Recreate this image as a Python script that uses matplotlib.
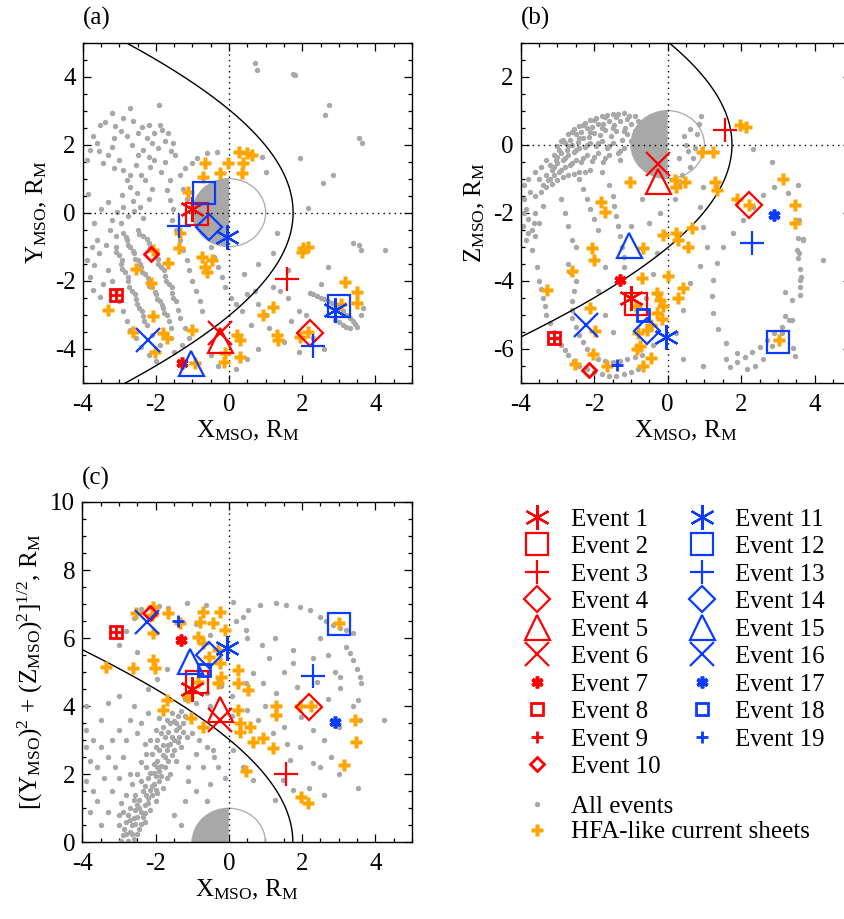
import numpy as np
import matplotlib.pyplot as plt
from matplotlib.lines import Line2D
from matplotlib.patches import Circle, Wedge
from matplotlib.ticker import MultipleLocator

plt.rcParams['font.family'] = ['Liberation Serif', 'DejaVu Serif']
plt.rcParams['mathtext.fontset'] = 'custom'
plt.rcParams['mathtext.rm'] = 'Liberation Serif'
plt.rcParams['mathtext.it'] = 'Liberation Serif:italic'
plt.rcParams['axes.unicode_minus'] = False
plt.rcParams['font.size'] = 18

# ---- 19 HFA events, MSO coordinates (R_M)
ev_x = [-1.00, -0.87, 1.57, 2.20, -0.25, -0.25, -1.30, -3.08, -3.08, -2.14,
        -0.05, 3.01, 2.29, -0.55, -1.05, -2.22, 2.90, -0.68, -1.38]
ev_y = [0.10, -0.05, -1.95, -3.55, -3.75, -3.55, -4.43, -2.42, -2.42, -1.22,
        -0.73, -2.75, -3.92, -0.41, -4.43, -3.75, -2.85, 0.59, -0.39]
ev_z = [-4.50, -4.70, 0.42, -1.78, -1.08, -0.56, -3.97, -5.70, -5.70, -6.62,
        -5.65, -5.80, -2.90, -5.48, -2.95, -5.29, -2.07, -5.02, -6.48]
ev_r = np.sqrt(np.array(ev_y)**2 + np.array(ev_z)**2)
ev_labels = ['Event %d' % (i + 1) for i in range(19)]

# ---- all events (grey dots)
gray_a = [(-3.21,2.92),(-2.71,3.07),(-1.91,3.17),(-3.53,2.58),(-3.40,2.68),(-3.12,2.55),(-2.89,2.77),
    (-2.62,2.70),(-2.39,2.53),(-2.20,2.58),(-1.88,2.58),(-1.84,2.43),(-1.66,2.33),(-1.52,2.04),(-1.60,1.80),
    (-1.48,1.70),(-3.71,2.24),(-3.80,1.84),(-3.89,1.55),(-3.60,2.05),(-3.21,1.94),(-2.80,2.24),(-2.66,2.00),
    (-2.48,1.70),(-2.34,1.84),(-2.20,1.65),(-2.16,1.35),(-2.11,2.04),(-2.25,2.20),(-1.95,1.90),(-2.05,1.55),
    (-1.75,2.10),(-3.30,1.70),(-3.45,1.45),(-3.00,1.55),(-2.90,1.25),(-2.55,1.40),(-2.70,1.10),
    (-2.95,2.40),(-2.50,2.35),(-2.05,2.35),(-3.15,2.20),(-3.55,1.80),(-3.15,1.30),(-2.40,1.10),
    (-1.85,1.20),(-1.75,1.50),
    (-2.80,0.96),(-2.71,0.76),(-2.93,0.52),(-2.52,0.57),(-2.62,0.35),(-2.43,0.18),(-2.89,0.18),(-3.07,0.03),
    (-3.21,-0.22),(-3.25,-0.51),(-3.62,-0.80),(-3.75,-1.00),(-3.89,-1.39),(-3.70,-1.55),(-3.80,-1.88),
    (-3.71,-2.27),(-3.53,-2.47),(-3.45,-2.10),(-3.55,-1.20),(-3.35,-0.95),(-3.10,-0.70),(-2.95,-0.30),
    (-2.75,-0.10),(-2.60,0.05),(-2.35,-0.15),(-2.20,0.40),(-2.10,0.70),(-2.30,0.95),(-3.30,0.30),
    (-3.50,0.10),(-3.70,-0.30),(-3.85,0.55),
    (-2.90,-0.60),(-2.80,-0.80),(-2.70,-1.00),(-2.60,-1.20),(-2.50,-1.40),(-2.40,-1.60),(-2.30,-1.80),
    (-2.20,-2.00),(-2.10,-2.20),(-2.00,-2.40),(-1.90,-2.60),(-1.80,-2.80),(-1.70,-3.00),(-1.65,-3.20),
    (-1.60,-3.40),(-3.10,-1.00),(-3.00,-1.25),(-2.95,-1.50),(-2.85,-1.75),(-2.75,-2.00),(-2.65,-2.30),
    (-2.55,-2.55),(-2.45,-2.80),(-2.35,-3.05),(-2.25,-3.30),(-2.50,-0.50),(-2.35,-0.70),(-2.20,-0.90),
    (-2.05,-1.10),(-1.95,-1.35),(-1.85,-1.60),(-1.75,-1.85),(-1.65,-2.10),(-1.55,-2.35),(-1.45,-2.60),
    (-1.40,-2.85),(-1.35,-3.10),(-3.30,-1.70),(-3.20,-2.00),(-3.10,-2.30),(-3.00,-2.60),(-2.90,-2.90),
    (-2.80,-3.20),(-2.70,-3.45),(-2.55,-3.70),(-2.40,-3.95),(-2.20,-4.20),(-2.00,-4.35),(-1.20,-3.40),
    (-1.10,-3.70),(-1.30,-3.90),(-1.50,-4.10),(-1.60,-3.70),(-1.90,-3.90),(-2.10,-3.60),
    (-2.82,-0.72),(-2.77,-0.95),(-2.62,-1.12),(-2.58,-1.35),(-2.43,-1.52),(-2.38,-1.75),(-2.22,-1.92),
    (-2.18,-2.15),(-2.03,-2.32),(-1.98,-2.55),(-1.83,-2.72),(-1.78,-2.95),(-3.08,-1.15),(-2.93,-1.40),
    (-2.92,-1.65),(-2.76,-1.90),(-2.73,-2.18),(-2.57,-2.40),(-2.53,-2.70),(-2.37,-2.90),(-2.33,-3.20),
    (-2.45,-0.62),(-2.25,-0.78),(-2.15,-1.02),(-1.97,-1.20),(-1.93,-1.50),(-1.77,-1.70),(-1.73,-2.00),
    (-1.57,-2.20),(-1.53,-2.50),
    (-1.61,0.96),(-1.70,0.67),(-1.61,0.37),(-1.52,0.10),(-1.57,-0.22),(-1.45,-0.50),(-1.35,-0.80),
    (-1.25,-1.10),(-1.15,-1.40),(-1.10,-1.70),(-1.00,-2.00),(-0.90,-2.30),(-0.80,-2.60),(-0.75,-2.90),
    (-1.20,1.30),(-1.00,1.45),(-0.88,1.60),(-0.61,1.75),(-0.34,1.79),(-1.35,1.10),(-1.25,0.70),
    (-1.15,0.40),(-1.05,0.20),(-0.50,-1.00),(-0.40,-1.30),(-0.30,-1.60),(-0.20,-1.90),(-0.10,-2.20),
    (0.05,-2.50),(0.20,-2.70),(0.35,-2.90),
    (0.71,4.39),(0.76,4.20),(1.76,4.08),(1.80,4.05),(2.72,3.17),(2.63,2.87),(3.54,2.19),(3.63,2.04),
    (1.94,1.60),(2.85,1.11),(2.58,0.86),(2.17,0.13),(3.40,-0.90),(3.54,-0.95),(4.26,-1.10),(3.60,-1.10),
    (1.00,1.20),(0.90,1.65),(1.30,-0.60),
    (2.20,-2.35),(2.40,-2.45),(2.60,-2.55),(2.80,-2.65),(3.00,-2.80),(3.20,-3.00),(3.40,-3.20),
    (3.50,-3.35),(3.30,-3.40),(3.10,-3.30),(2.90,-3.15),(3.60,-3.00),(3.65,-2.80),(1.20,-2.20),
    (2.30,-2.40),(2.50,-2.50),(2.70,-2.60),(2.90,-2.72),(3.10,-2.90),(3.30,-3.10),(3.45,-3.28),
    (3.20,-3.35),(3.00,-3.22),
    (1.40,-2.30),(1.60,-2.50),(0.70,-2.30),(0.80,-2.70),(0.50,-2.40),(1.00,-3.00),(1.70,-3.20),
    (1.90,-2.90),(2.10,-3.00),(0.40,-1.80),(0.80,-1.50),(1.20,-1.20),(1.60,-1.70),(2.50,-2.10),
    (2.70,-1.60),(1.10,-3.40),(1.50,-3.80),(1.90,-4.10),(0.50,-4.30),(0.80,-4.00),(0.20,-4.60),
    (-0.30,-4.50),(-0.50,-4.20),(0.60,-3.30),(2.30,-3.70),(2.60,-4.00)]

gray_b = [(-3.0,-0.05),(-2.7,0.30),(-2.4,0.55),(-2.1,0.72),(-1.8,0.84),(-1.5,0.90),(-1.2,0.93),(-0.9,0.85),
    (-3.1,-0.30),(-2.8,0.05),(-2.5,0.30),(-2.2,0.50),(-1.9,0.62),(-1.6,0.70),(-1.3,0.70),(-1.0,0.60),
    (-3.2,-0.60),(-2.9,-0.25),(-2.6,0.00),(-2.3,0.20),(-2.0,0.35),(-1.7,0.42),(-1.4,0.40),(-1.1,0.30),
    (-3.3,-0.90),(-3.0,-0.55),(-2.7,-0.30),(-2.4,-0.10),(-2.1,0.05),(-1.8,0.10),(-1.5,0.05),(-1.2,-0.10),
    (-3.4,-1.20),(-3.1,-0.90),(-2.8,-0.65),(-2.5,-0.45),(-2.2,-0.30),(-1.9,-0.25),(-1.6,-0.30),(-1.3,-0.45),
    (-3.6,-1.50),(-3.3,-1.25),(-3.0,-1.05),(-2.7,-0.90),(-2.4,-0.80),(-2.1,-0.75),(-1.8,-0.80),
    (-2.85,0.15),(-2.55,0.45),(-2.25,0.63),(-1.95,0.77),(-1.65,0.86),(-1.35,0.90),(-1.05,0.85),
    (-2.95,-0.15),(-2.65,0.15),(-2.35,0.37),(-2.05,0.52),(-1.75,0.60),(-1.45,0.58),(-1.15,0.50),
    (-3.05,-0.45),(-2.75,-0.15),(-2.45,0.08),(-2.15,0.22),(-1.85,0.28),(-1.55,0.25),(-1.25,0.15),
    (-3.15,-0.75),(-2.85,-0.45),(-2.55,-0.22),(-2.25,-0.08),(-1.95,-0.05),(-1.65,-0.10),(-1.35,-0.25),
    (-3.25,-1.05),(-2.95,-0.80),(-2.65,-0.60),(-2.35,-0.50),(-2.05,-0.48),(-1.75,-0.52),
    (-2.9,0.10),(-2.6,0.36),(-2.3,0.58),(-2.0,0.72),(-1.7,0.80),(-1.4,0.80),(-1.1,0.75),(-0.8,0.70),
    (-3.0,-0.35),(-2.7,-0.05),(-2.4,0.20),(-2.1,0.38),(-1.8,0.48),(-1.5,0.48),(-1.2,0.40),(-0.9,0.40),
    (-3.1,-0.65),(-2.8,-0.38),(-2.5,-0.15),(-2.2,0.00),(-1.9,0.05),(-1.6,-0.05),(-1.3,-0.20),(-1.0,0.10),
    (-3.2,-1.00),(-2.9,-0.75),(-2.6,-0.55),(-2.3,-0.40),(-2.0,-0.35),(-1.7,-0.40),(-3.45,-1.40),
    (-3.15,-1.15),(-2.85,-0.95),(-2.55,-0.85),(-2.25,-0.80),(-0.85,0.20),(-0.95,-0.05),
    (-3.9,-1.2),(-3.8,-1.0),(-3.6,-0.8),(-3.5,-1.0),(-3.45,-0.65),(-3.3,-0.45),(-3.9,-2.0),(-3.95,-2.4),
    (-3.8,-2.6),(-3.65,-2.3),
    (-3.9,-1.6),(-3.85,-1.9),(-3.8,-2.2),(-3.7,-2.5),(-3.75,-1.4),(-3.6,-2.0),(-3.5,-2.3),(-3.6,-2.7),
    (-3.4,-1.8),(-3.85,-2.8),(-3.7,-3.1),
    (-2.4,-1.0),(-2.3,-1.3),(-2.2,-1.6),(-2.1,-1.9),(-2.0,-2.2),(-1.9,-2.5),(-1.6,-1.2),(-1.5,-1.5),
    (-1.45,-1.8),(-1.4,-2.1),(-1.35,-2.4),(-1.3,-2.7),(-1.25,-3.0),(-1.2,-3.3),(-1.2,-3.6),
    (-2.9,-1.6),(-2.8,-2.0),(-2.7,-2.4),(-2.6,-2.8),(-2.5,-3.0),
    (-3.5,-4.0),(-3.4,-4.5),(-3.3,-5.0),(-3.1,-5.5),(-2.9,-5.9),(-2.7,-6.2),(-2.4,-6.5),(-2.0,-6.7),
    (-1.6,-6.8),(-1.2,-6.75),(-0.8,-6.6),(-2.7,-3.5),(-2.5,-4.0),(-2.6,-4.6),(-2.6,-5.1),(-2.4,-5.6),
    (-2.2,-6.0),(-1.9,-6.3),(-1.5,-6.4),(-1.1,-6.3),(-0.7,-6.2),(-0.4,-5.9),
    (-3.55,-3.6),(-3.45,-4.25),(-3.35,-4.75),(-3.2,-5.25),(-3.0,-5.7),(-2.8,-6.05),(-2.55,-6.35),
    (-2.2,-6.6),(-1.8,-6.75),(-1.4,-6.8),(-1.0,-6.7),(-2.65,-3.75),(-2.55,-4.3),(-2.6,-4.85),
    (-2.5,-5.35),(-2.3,-5.8),(-2.05,-6.15),(-1.7,-6.35),(-1.3,-6.35),(-0.9,-6.25),
    (-1.7,-3.6),(-1.9,-4.3),(-1.7,-5.0),(-1.5,-5.5),(-0.6,-4.5),(-0.4,-3.8),(-0.3,-3.2),(-0.1,-2.6),
    (-0.2,-2.0),(0.2,-1.6),(0.3,-1.2),(-0.5,-2.3),(-0.7,-1.6),(-1.0,-2.4),
    (0.9,0.85),(0.85,0.6),(0.8,0.3),(0.75,-0.1),(0.7,-0.4),(0.6,-0.65),(0.4,-0.9),
    (0.45,0.25),(0.5,0.0),(0.55,-0.2),(0.3,-0.4),(0.6,0.45),
    (2.33,-0.12),(2.83,-0.51),(3.28,-1.43),(3.56,-2.21),(3.69,-2.80),(3.56,-3.19),(3.60,-3.97),
    (3.37,-4.56),(3.19,-5.04),(3.10,-5.53),(2.83,-5.92),(2.60,-6.31),(2.38,-6.51),(2.15,-6.60),
    (1.88,-6.12),(1.60,-5.82),(1.38,-5.43),(1.24,-4.95),(1.20,-4.46),(1.24,-3.97),(1.33,-3.48),
    (1.51,-3.00),(1.79,-2.60),(2.06,-2.21),(2.33,-1.82),(2.60,-1.48),(2.88,-1.24),
    (1.7,-6.55),(1.9,-6.4),(2.1,-6.25),(2.3,-6.1),(2.5,-5.95),(2.7,-5.75),(2.9,-5.55),(3.1,-5.35),
    (3.3,-5.15),
    (0.97,-1.24),(0.88,-1.82),(0.97,-2.41),(1.06,-3.00),(0.88,-3.58),(0.61,-4.07),(0.43,-4.85),
    (0.24,-5.53),(0.43,-6.31),(0.97,-6.51),(1.60,-6.31),
    (3.55,-1.19),(3.54,-2.74),(3.69,-2.77),(3.51,-3.11),(3.55,-3.33),(4.23,-3.40),(3.60,-3.65),
    (3.62,-3.89),(3.60,-4.18),(3.60,-4.41),(3.19,-4.32),(3.37,-5.16),(3.42,-5.99),(3.46,-6.22)]

gray_c = [(-1.65,6.88),(-1.15,7.02),(-0.61,6.97),(0.12,7.07),(0.53,6.83),(0.85,6.97),(1.30,7.02),
    (1.57,6.97),(1.94,6.92),(2.21,6.83),(2.48,6.63),(2.85,6.39),(3.21,6.24),(3.39,6.14),(3.21,5.75),
    (3.39,5.36),(3.57,4.87),(3.62,4.67),(3.53,4.18),(3.39,3.99),(3.57,3.59),(4.25,3.59),(3.53,1.59),
    (3.03,4.53),(3.03,4.87),(2.65,6.50),(3.05,6.30),(3.30,5.55),(3.50,5.10),
    (1.75,5.65),(1.75,5.26),(1.25,5.99),(0.94,4.67),(1.85,4.57),(1.98,3.69),(1.94,2.81),(1.66,2.42),
    (2.30,2.32),(2.48,2.22),(1.48,1.83),(1.75,1.54),(0.66,1.83),(0.39,2.22),(-0.43,2.71),(0.12,2.71),
    (1.25,1.24),(0.48,4.67),(0.66,4.97),(0.39,6.63),(0.48,6.24),
    (-2.9,0.2),(-2.7,0.3),(-2.8,0.6),(-2.6,0.7),(-2.7,1.0),(-2.5,1.1),(-2.4,0.9),(-2.55,1.4),(-2.35,1.5),
    (-2.2,1.3),(-2.4,1.8),(-2.2,1.9),(-2.05,1.7),(-2.25,2.2),(-2.05,2.3),(-1.9,2.1),(-2.1,2.6),(-1.9,2.7),
    (-1.75,2.5),(-1.95,3.0),(-1.75,3.1),(-1.6,2.9),(-1.8,3.4),(-1.6,3.5),(-1.45,3.3),(-1.4,3.7),
    (-1.25,3.5),(-2.6,0.1),(-3.0,0.5),(-2.9,0.9),(-2.3,0.6),(-2.0,1.2),(-1.8,1.6),(-1.6,2.0),(-1.45,2.4),
    (-1.3,2.8),(-1.15,3.1),(-2.45,0.4),(-2.15,0.95),(-1.95,1.45),(-1.7,1.9),(-1.5,2.7),
    (-2.85,0.4),(-2.75,0.8),(-2.65,0.5),(-2.6,1.25),(-2.45,1.25),(-2.5,0.75),(-2.3,1.65),(-2.3,1.1),
    (-2.15,1.55),(-2.15,2.05),(-2.0,1.95),(-1.95,2.4),(-1.85,2.25),(-2.0,2.8),(-1.8,2.85),(-1.7,2.7),
    (-1.85,3.2),(-1.65,3.25),(-1.55,3.1),(-1.7,3.6),(-1.5,3.55),(-1.35,3.4),(-1.3,3.85),(-1.55,3.8),
    (-2.75,0.05),(-2.5,0.25),(-2.35,0.75),(-2.1,1.4),(-1.9,1.8),(-1.75,2.2),(-1.55,2.55),(-1.4,2.95),
    (-1.25,3.25),(-3.0,0.8),(-2.95,1.15),(-2.8,1.4),(-2.65,1.7),(-2.5,2.0),(-2.4,2.35),(-2.25,2.6),
    (-2.15,3.0),(-2.0,3.3),(-1.9,3.65),
    (-2.95,0.05),(-2.8,0.25),(-2.65,0.25),(-2.55,0.55),(-2.4,0.55),(-2.45,1.0),(-2.3,0.85),(-2.2,1.15),
    (-2.1,1.65),(-2.25,1.4),(-2.0,1.55),(-2.05,2.05),(-1.95,2.2),(-1.85,1.95),(-1.8,2.55),(-1.65,2.4),
    (-1.65,2.85),(-1.5,3.0),(-1.35,3.1),(-1.45,3.5),(-1.2,3.7),(-2.7,0.65),(-2.55,0.95),
    (-3.9,3.3),(-3.7,3.0),(-3.5,2.8),(-3.8,2.4),(-3.6,2.2),(-3.3,2.5),(-3.1,2.2),(-3.4,1.9),(-3.9,1.8),
    (-3.7,1.5),(-3.2,1.5),(-3.0,1.9),(-2.9,2.5),(-3.2,3.0),(-3.0,3.3),(-2.8,3.0),(-2.7,2.0),(-2.7,3.6),
    (-2.5,3.2),(-2.4,3.5),(-2.3,2.9),(-3.5,3.6),(-3.3,4.1),(-3.0,4.3),(-2.6,4.0),(-2.2,3.8),(-3.9,2.8),
    (-3.6,1.2),(-3.3,0.9),(-3.8,0.9),(-3.5,0.5),(-3.9,4.0),
    (-2.2,4.5),(-1.95,4.8),(-1.7,5.1),(-2.5,5.6),(-3.0,5.8),(-2.8,6.2),(-2.6,6.6),(-2.4,6.85),(-1.9,6.95),
    (-1.0,3.2),(-0.8,3.0),(-0.6,2.8),(-0.4,2.5),(-0.3,2.2),(-0.1,1.9),(-0.5,1.7),(-0.7,2.2),(-0.9,2.6),
    (-1.1,2.2),(-0.9,1.5),(-1.2,1.2),(-1.1,1.8),(-0.6,1.2),(-0.4,0.5),(-1.5,0.8),(-1.3,0.5),(-0.8,0.3),
    (-0.6,0.1),
    (-1.2,4.2),(-0.9,4.1),(-0.6,4.4),(-0.5,4.0),(-0.2,4.6),(0.1,4.3),(0.1,3.7),(0.5,3.9),(-0.5,6.1),
    (-0.9,6.4),(0.2,6.5),(0.5,6.0),(0.9,5.8),(1.1,5.4),(1.5,5.0),(1.3,4.4),(1.0,4.0),(0.8,3.6),(1.5,3.4),
    (1.6,2.9),(1.2,3.2),(2.3,3.3),(2.6,3.0),(2.8,2.5),(3.0,2.0),(2.6,1.4),(2.2,1.6),(2.7,4.2),(2.4,4.7),
    (2.7,5.5),(2.5,6.0),(2.9,5.0),(3.0,3.4),(2.3,5.4)]

# ---- HFA-like current sheets (orange)
hfa_a = [(0.26,1.79),(0.48,1.75),(0.62,1.70),(0.35,1.16),(0.37,1.45),(-0.02,1.45),(-0.66,1.45),
    (-0.26,1.16),(-0.70,1.06),(-1.11,0.62),(-1.34,-0.61),(-1.37,-1.05),(-0.75,-1.29),(-0.66,-1.59),
    (-0.47,-1.39),(-0.61,-1.74),(-2.07,-1.10),(-2.54,-1.67),(-1.66,-1.49),(-2.14,-2.08),(-3.30,-2.86),
    (-2.63,-3.50),(-2.07,-3.04),(-1.80,-3.55),(-1.70,-3.70),(-2.02,-4.09),(-1.02,-3.45),(-0.93,-4.43),
    (-0.15,-4.38),(-0.11,-4.14),(0.21,-3.60),(0.30,-3.75),(0.30,-4.24),(1.21,-2.76),(0.94,-3.01),
    (1.30,-3.60),(1.35,-3.75),(1.94,-3.65),(2.03,-1.05),(2.17,-1.00),(1.99,-1.15),(3.17,-2.03),
    (3.49,-2.32),(3.49,-2.67),(2.15,-3.50),(3.05,-2.70)]
hfa_b = [(1.97,0.57),(2.13,0.52),(0.93,-0.21),(1.22,-0.23),(-1.02,-1.09),(0.20,-1.04),(0.47,-1.09),
    (0.24,-1.24),(1.29,-1.09),(1.33,-1.34),(3.15,-1.00),(1.88,-1.60),(3.47,-1.78),(3.47,-2.31),
    (-1.81,-1.68),(-1.70,-1.97),(-0.14,-2.65),(0.24,-2.60),(0.29,-2.80),(0.65,-2.46),(0.56,-3.00),
    (-0.66,-3.04),(-2.07,-3.04),(-2.00,-3.39),(-2.61,-3.73),(-3.29,-4.26),(-0.71,-3.92),(0.00,-3.87),
    (0.43,-4.21),(0.29,-4.51),(-0.30,-4.36),(-0.21,-4.56),(-0.12,-4.75),(-0.30,-4.95),(-0.16,-5.14),
    (-0.44,-5.29),(-0.80,-5.53),(-0.75,-5.92),(-0.84,-6.02),(-0.44,-6.26),(-0.66,-6.51),(-2.11,-4.80),
    (-1.98,-5.48),(-2.02,-6.17),(-2.52,-6.46),(-1.66,-6.51),(3.04,-5.75),(2.20,-1.78),(-0.85,-4.75),
    (-0.55,-5.45)]
hfa_c = [(-3.34,5.16),(-2.61,5.11),(-2.06,5.36),(-2.02,5.11),(-2.52,6.73),(-2.06,6.92),(-2.11,6.68),
    (-2.06,6.14),(-1.65,6.73),(-1.34,6.44),(-0.70,6.78),(-0.79,6.48),(-0.43,6.44),(-0.25,6.78),
    (-0.84,6.04),(-0.70,5.85),(-0.11,6.24),(-0.29,5.65),(-0.25,5.26),(-0.20,4.87),(-0.29,4.67),
    (0.25,5.06),(0.25,4.67),(0.53,4.48),(-1.70,4.18),(-1.79,3.89),(-1.02,3.64),(-0.70,3.40),(0.25,3.89),
    (0.30,3.50),(0.30,3.25),(0.57,3.40),(0.66,2.96),(0.94,3.06),(1.21,2.76),(1.30,3.99),(1.30,3.74),
    (0.48,2.08),(1.94,3.99),(2.25,3.99),(3.44,3.59),(3.48,2.96),(3.16,2.27),(1.98,1.34),(2.16,1.15),
    (3.01,6.44),(-0.85,4.70),(-1.11,4.28),(-0.55,5.45)]

# bow shock model (conic, focus at X0)
BS_X0, BS_L, BS_E = 0.5, 2.55, 1.04

RED = '#ff0000'
BLUE = '#0a3cff'
GREY = '#a8a8a8'
ORANGE = '#ffa500'
ASTER = (6, 2, 0)
ev_marker = [ASTER, 's', '+', 'D', '^', 'x', ASTER, 's', '+', 'D',
             ASTER, 's', '+', 'D', '^', 'x', ASTER, 's', '+']
ev_color = [RED] * 10 + [BLUE] * 9
ev_big = [True] * 6 + [False] * 4 + [True] * 6 + [False] * 3
big_ms = {ASTER: 18, 's': 16.5, '+': 17, 'D': 13, '^': 18, 'x': 17.5}
small_ms = {ASTER: 8.5, 's': 9, '+': 8.5, 'D': 7}
small_mew = {ASTER: 2.6, 's': 2.0, '+': 2.0, 'D': 2.0}


def ev_style(i, big):
    m = ev_marker[i]
    ms = big_ms[m] if big else small_ms[m]
    mew = 1.6 if big else small_mew[m]
    return dict(marker=m, ms=ms, mew=mew, mec=ev_color[i], mfc='none',
                color=ev_color[i], ls='none')


def draw(ax, gray, hfa, evx, evy, xlim, ylim, quarter=False, big_override=()):
    g = np.array(gray)
    h = np.array(hfa)
    ax.plot(g[:, 0], g[:, 1], 'o', color=GREY, ms=3.9, mec='none', zorder=2)
    if quarter:
        ax.add_patch(Wedge((0, 0), 1, 90, 180, fc=GREY, ec='none', zorder=2.5))
    else:
        ax.add_patch(Wedge((0, 0), 1, 90, 270, fc=GREY, ec='none', zorder=2.5))
    ax.add_patch(Circle((0, 0), 1, fill=False, ec=GREY, lw=0.9, zorder=2.5))
    th = np.radians(np.linspace(-150, 150, 601))
    r = BS_L / (1 + BS_E * np.cos(th))
    ax.plot(BS_X0 + r * np.cos(th), r * np.sin(th), color='k', lw=1.0, zorder=3)
    ax.axvline(0, color='k', ls=(0, (1, 3)), lw=1.0, zorder=3)
    if not quarter:
        ax.axhline(0, color='k', ls=(0, (1, 3)), lw=1.0, zorder=3)
    ax.plot(h[:, 0], h[:, 1], 'P', color=ORANGE, ms=9, mec='none', zorder=4)
    for i in range(19):
        big = ev_big[i] or (i in big_override)
        ax.plot(evx[i], evy[i], zorder=5, **ev_style(i, big))
    ax.set_xlim(*xlim)
    ax.set_ylim(*ylim)
    ax.xaxis.set_major_locator(MultipleLocator(2))
    ax.yaxis.set_major_locator(MultipleLocator(2))
    ax.xaxis.set_minor_locator(MultipleLocator(0.5))
    ax.yaxis.set_minor_locator(MultipleLocator(0.5))
    ax.tick_params(which='both', direction='in', top=True, right=True, width=0.9)
    ax.tick_params(which='major', length=5.5, labelsize=18)
    ax.tick_params(which='minor', length=2.8)
    ax.tick_params(axis='x', pad=8)
    ax.tick_params(axis='y', pad=5)
    for s in ax.spines.values():
        s.set_linewidth(1.0)
    ax.set_xlabel(r'X$_{\rm MSO}$, R$_{\rm M}$', fontsize=18, labelpad=2)


fig = plt.figure(figsize=(8.44, 9.19), dpi=100)
ax_a = fig.add_axes([0.098, 0.5836, 0.3902, 0.370])
ax_b = fig.add_axes([0.6169, 0.5836, 0.3919, 0.370])
ax_c = fig.add_axes([0.0975, 0.0835, 0.3905, 0.3703])

# panel (a): events 17-19 are plotted with the large symbols in the original
draw(ax_a, gray_a, hfa_a, ev_x, ev_y, (-4, 5), (-5, 5), big_override=(16, 17, 18))
ax_a.set_ylabel(r'Y$_{\rm MSO}$, R$_{\rm M}$', fontsize=18, labelpad=4)
draw(ax_b, gray_b, hfa_b, ev_x, ev_z, (-4, 5), (-7, 3))
ax_b.set_ylabel(r'Z$_{\rm MSO}$, R$_{\rm M}$', fontsize=18, labelpad=4)
draw(ax_c, gray_c, hfa_c, ev_x, ev_r, (-4, 5), (0, 10), quarter=True)
ax_c.set_ylabel(r'[(Y$_{\rm MSO}$)$^2$ + (Z$_{\rm MSO}$)$^2$]$^{1/2}$, R$_{\rm M}$',
                fontsize=18, labelpad=4)

for ax, lab in [(ax_a, '(a)'), (ax_b, '(b)'), (ax_c, '(c)')]:
    ax.text(0.0, 1.07, lab, transform=ax.transAxes, ha='left', va='center', fontsize=18)

handles = [Line2D([], [], **ev_style(i, ev_big[i])) for i in range(19)]
fig.legend(handles, ev_labels, ncol=2, loc='upper left', bbox_to_anchor=(0.622, 0.4472),
           frameon=False, fontsize=18, handlelength=1.0, handletextpad=0.84,
           columnspacing=1.15, labelspacing=0.2, borderpad=0, borderaxespad=0)
h2 = [Line2D([], [], marker='o', color=GREY, ms=3.9, mec='none', ls='none'),
      Line2D([], [], marker='P', color=ORANGE, ms=9, mec='none', ls='none')]
fig.legend(h2, ['All events', 'HFA-like current sheets'], loc='upper left',
           bbox_to_anchor=(0.622, 0.1344), frameon=False, fontsize=18, handlelength=1.0,
           handletextpad=0.84, labelspacing=0.12, borderpad=0, borderaxespad=0)

fig.savefig('out.png', dpi=100)
